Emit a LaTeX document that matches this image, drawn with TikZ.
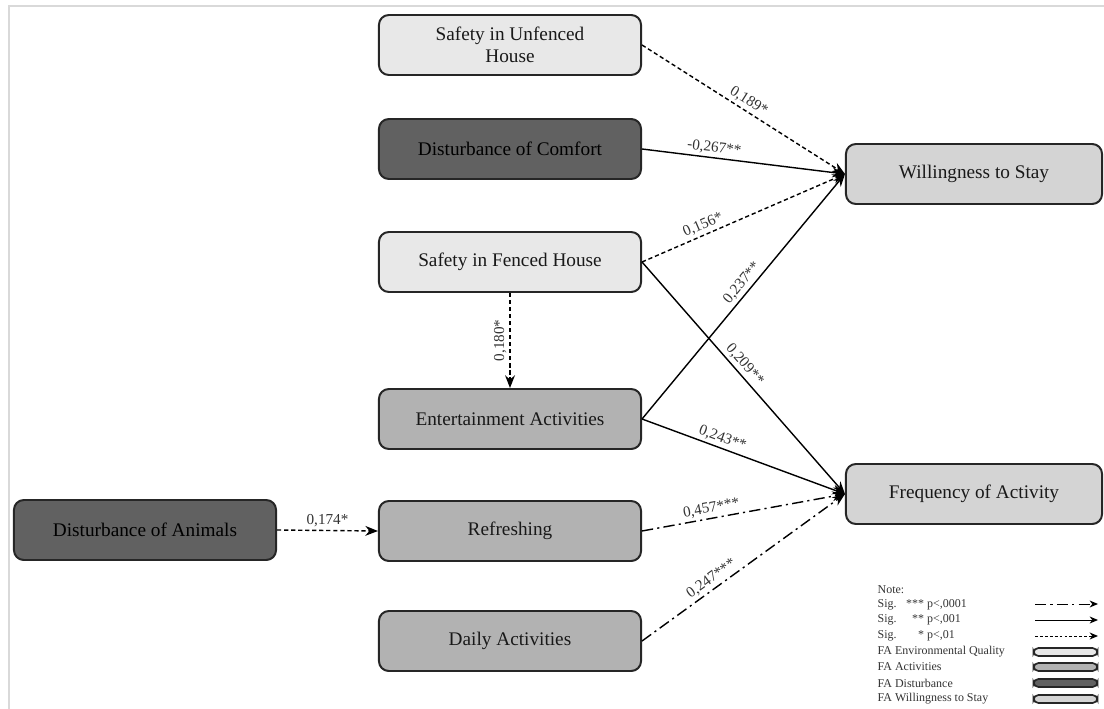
\documentclass[tikz,border=0pt]{standalone}
\usepackage{fontspec}
\setmainfont{Liberation Serif}
\usetikzlibrary{arrows.meta}

\begin{document}
\begin{tikzpicture}[x=.025cm,y=-.025cm,>={Stealth[length=9pt,width=7pt]},line width=1pt,
  font=\fontsize{13.7}{15.5}\selectfont,
  box/.style={draw=black!85,line width=1.4pt,rounded corners=7pt,minimum width=6.55cm,minimum height=1.5cm,align=center,text=black!90},
  envq/.style={box,fill=black!9},
  act/.style={box,fill=black!30},
  dist/.style={box,fill=black!62,text=black},
  outc/.style={box,fill=black!17,minimum width=6.4cm},
  sigone/.style={dash pattern=on 3pt off 2pt},
  sigthree/.style={dash pattern=on 8pt off 3pt on 1.5pt off 3pt},
  coefbase/.style={font=\fontsize{10.8}{12}\selectfont,text=black!80,inner sep=2pt},
  coef/.style={coefbase,sloped,above},
  note/.style={font=\fontsize{8.5}{10}\selectfont,text=black!80,anchor=west,inner sep=0pt},
  pill/.style={draw=black!85,line width=1.2pt,rounded corners=3.5pt,minimum width=1.6cm,minimum height=.2cm,inner sep=0pt}]
  \useasboundingbox (0,0) rectangle (1104,709);
  \draw[black!15,line width=1.5pt] (9,709)--(9,6)--(1104,6);
  \node[envq] (unf) at (510,45) {Safety in Unfenced\\House};
  \node[dist] (com) at (510,149) {Disturbance of Comfort};
  \node[envq] (fen) at (510,262) {Safety in Fenced House};
  \node[act] (ent) at (510,419) {Entertainment Activities};
  \node[act] (ref) at (510,531) {Refreshing};
  \node[act] (day) at (510,641) {Daily Activities};
  \node[dist] (ani) at (145,530) {Disturbance of Animals};
  \node[outc] (wts) at (974,174) {Willingness to Stay};
  \node[outc] (frq) at (974,494) {Frequency of Activity};
  \draw[->,sigone] (unf.east) -- node[coef,pos=.5] {0,189*} (wts.west);
  \draw[->] (com.east) -- node[coef,pos=.35] {-0,267**} (wts.west);
  \draw[->,sigone] (fen.east) -- node[coef,pos=.32] {0,156*} (wts.west);
  \draw[->] (fen.east) -- node[coef,pos=.47] {0,209**} (frq.west);
  \draw[->] (ent.east) -- node[coef,pos=.53] {0,237**} (wts.west);
  \draw[->] (ent.east) -- node[coef,pos=.38] {0,243**} (frq.west);
  \draw[->,sigthree] (ref.east) -- node[coef,pos=.35] {0,457***} (frq.west);
  \draw[->,sigthree] (day.east) -- node[coef,pos=.37] {0,247***} (frq.west);
  \draw[->,sigone] (fen.south) -- node[coefbase,midway,rotate=90,above] {0,180*} (ent.north);
  \draw[->,sigone] (ani.east) -- node[coefbase,midway,above] {0,174*} (ref.west);
  \node[note] (nt) at (877,590) {Note:};
  \node[note] (s3) at (877,605) {Sig.\makebox[2.3em][r]{***} p<,0001};
  \node[note] (s2) at (877,620) {Sig.\makebox[2.3em][r]{**} p<,001};
  \node[note] (s1) at (877,636) {Sig.\makebox[2.3em][r]{*} p<,01};
  \node[note] (fenv) at (877,652) {FA Environmental Quality};
  \node[note] (fact) at (877,667) {FA Activities};
  \node[note] (fdis) at (877,683) {FA Disturbance};
  \node[note] (fwts) at (877,699) {FA Willingness to Stay};
  \coordinate (a3) at (1035,604); \coordinate (b3) at (1098,604);
  \coordinate (a2) at (1035,620); \coordinate (b2) at (1098,620);
  \coordinate (a1) at (1035,636); \coordinate (b1) at (1098,636);
  \draw[-{Stealth[length=6pt,width=5pt]},sigthree,line width=.7pt] (a3)--(b3);
  \draw[-{Stealth[length=6pt,width=5pt]},line width=.7pt] (a2)--(b2);
  \draw[-{Stealth[length=6pt,width=5pt]},dash pattern=on 2pt off 1.5pt,line width=.7pt] (a1)--(b1);
  \node[pill,fill=black!9] (penv) at (1065.5,652) {};
  \node[pill,fill=black!30] (pact) at (1065.5,667) {};
  \node[pill,fill=black!62] (pdis) at (1065.5,683) {};
  \node[pill,fill=black!17] (pwts) at (1065.5,699) {};
\end{tikzpicture}
\end{document}
